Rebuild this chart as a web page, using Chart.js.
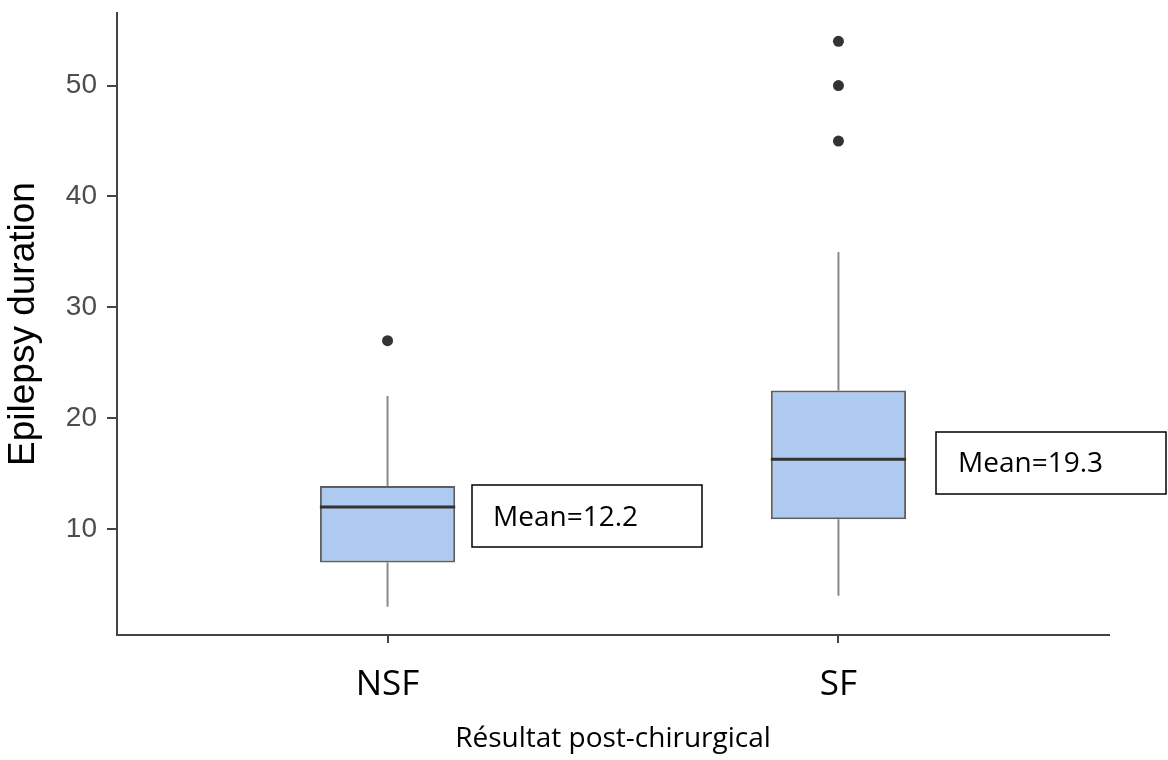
<!DOCTYPE html>
<html><head><meta charset="utf-8">
<script src="https://cdn.jsdelivr.net/npm/chart.js@4.4.0/dist/chart.umd.min.js"></script>
<style>html,body{margin:0;padding:0;background:#fff;overflow:hidden}</style>
</head><body>
<canvas id="c" width="1168" height="760"></canvas>
<script>
// ---- data ----
const categories = ['NSF', 'SF'];
const q1 = [7, 10.9];
const q3 = [13.9, 22.5];
const medians = [12, 16.3];
const whiskerLow = [3, 4];
const whiskerHigh = [22, 35];
const outliersNSF = [27];
const outliersSF = [45, 50, 54];
const means = [12.2, 19.3];
const yTicks = [10, 20, 30, 40, 50];

// ---- style ----
const BOX_HALF = 0.15;
const meanBoxes = [
  {x: 472, y: 485, w: 230, h: 62, tx: 493, ty: 526},
  {x: 936, y: 432, w: 230, h: 62, tx: 958, ty: 472}
];

const pos = categories.map((c, i) => i + 1);
const boxData = pos.map((p, i) => ({x: p, y: [q1[i], q3[i]]}));
const medianData = [];
pos.forEach((p, i) => {
  medianData.push({x: p - BOX_HALF, y: medians[i]}, {x: p + BOX_HALF, y: medians[i]}, {x: p + 0.5, y: null});
});
const whiskerData = [];
pos.forEach((p, i) => {
  whiskerData.push({x: p, y: whiskerLow[i]}, {x: p, y: q1[i]}, {x: p, y: null},
                   {x: p, y: q3[i]}, {x: p, y: whiskerHigh[i]}, {x: p, y: null});
});
const outlierData = outliersNSF.map(v => ({x: 1, y: v})).concat(outliersSF.map(v => ({x: 2, y: v})));

const meanPlugin = {
  id: 'meanLabels',
  afterDraw(chart) {
    const ctx = chart.ctx;
    ctx.save();
    means.forEach((m, i) => {
      const b = meanBoxes[i];
      ctx.fillStyle = '#fff';
      ctx.fillRect(b.x, b.y, b.w, b.h);
      ctx.strokeStyle = '#000';
      ctx.lineWidth = 1.5;
      ctx.strokeRect(b.x, b.y, b.w, b.h);
      ctx.fillStyle = '#000';
      ctx.font = '28px "Open Sans"';
      ctx.textAlign = 'left';
      ctx.textBaseline = 'alphabetic';
      ctx.fillText('Mean=' + m.toFixed(1), b.tx, b.ty);
    });
    ctx.restore();
  }
};

new Chart(document.getElementById('c'), {
  type: 'bar',
  data: {
    datasets: [
      {type: 'bar', data: boxData, backgroundColor: '#aecaf1', borderColor: '#5f5f5f', borderWidth: 2,
       borderSkipped: false, barPercentage: 0.3, categoryPercentage: 1, order: 1},
      {type: 'scatter', data: whiskerData, showLine: true, spanGaps: false, pointRadius: 0,
       borderColor: '#8a8a8a', borderWidth: 2, order: 2},
      {type: 'scatter', data: medianData, showLine: true, spanGaps: false, pointRadius: 0,
       borderColor: '#333333', borderWidth: 3, order: 0},
      {type: 'scatter', data: outlierData, pointRadius: 5.5, backgroundColor: '#333333',
       borderWidth: 0, order: 0}
    ]
  },
  options: {
    responsive: false,
    animation: false,
    devicePixelRatio: 1,
    layout: {padding: {top: 13, right: 59, left: 0, bottom: 0}},
    plugins: {legend: {display: false}, tooltip: {enabled: false}},
    scales: {
      x: {
        type: 'linear', min: 0.4, max: 2.6, offset: false,
        afterBuildTicks: s => { s.ticks = pos.map(v => ({value: v})); },
        afterFit: s => { s.height = 125; s.paddingLeft = 0; s.paddingRight = 0; },
        grid: {drawOnChartArea: false, offset: false, tickLength: 8, color: '#444', lineWidth: 2},
        border: {color: '#444', width: 2},
        ticks: {callback: (v, i) => categories[i], font: {family: 'Open Sans', size: 35}, color: '#000', padding: 21, maxRotation: 0},
        title: {display: true, text: 'Résultat post-chirurgical', font: {family: 'Open Sans', size: 28}, color: '#000', padding: {top: 0, bottom: 4}}
      },
      y: {
        type: 'linear', min: 0.45, max: 56.55,
        afterBuildTicks: s => { s.ticks = yTicks.map(v => ({value: v})); },
        afterFit: s => { s.width = 117; s.paddingTop = 0; s.paddingBottom = 0; },
        grid: {drawOnChartArea: false, tickLength: 10, color: '#444', lineWidth: 2},
        border: {color: '#444', width: 2},
        ticks: {font: {family: 'Liberation Sans', size: 28}, color: '#4d4d4d', padding: 10},
        title: {display: true, text: 'Epilepsy duration', font: {family: 'Liberation Sans', size: 37}, color: '#000', padding: {top: 2, bottom: 0}}
      }
    }
  },
  plugins: [meanPlugin]
});
</script>
</body></html>
